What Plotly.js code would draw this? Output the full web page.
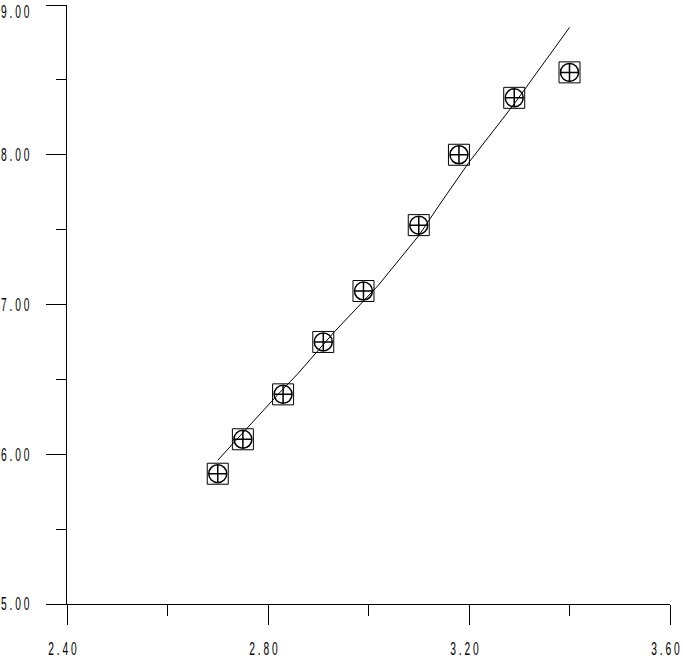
<!DOCTYPE html>
<html>
<head>
<meta charset="utf-8">
<script src="https://cdn.plot.ly/plotly-3.0.1.min.js"></script>
<style>
  html, body { margin: 0; padding: 0; background: #fff; }
  #chart { width: 683px; height: 661px; }
  .xtick text, .ytick text { letter-spacing: 5px; }
</style>
</head>
<body>
<div id="chart"></div>
<script>
// Observed data points
const pointX = [2.70, 2.75, 2.83, 2.91, 2.99, 3.10, 3.18, 3.29, 3.40];
const pointY = [5.87, 6.10, 6.40, 6.75, 7.09, 7.53, 8.00, 8.38, 8.55];

// Fitted curve samples
const fitX = [2.70, 2.77, 2.82, 2.86, 2.93, 3.02, 3.10, 3.14, 3.20, 3.29, 3.40];
const fitY = [5.96, 6.22, 6.40, 6.54, 6.81, 7.13, 7.46, 7.66, 7.95, 8.34, 8.85];

// Tick labels
const xTickVals = [2.4, 2.8, 3.2, 3.6];
const xTickText = ["2.40", "2.80", "3.20", "3.60"];
const yTickVals = [5, 6, 7, 8, 9];
const yTickText = ["5.00", "6.00", "7.00", "8.00", "9.00"];

const tickFont = { family: "Liberation Sans, Arial, sans-serif", size: 18, color: "#000" };
const condense = 0.57;

const traces = [
  {
    x: fitX, y: fitY, mode: "lines", type: "scatter",
    line: { color: "#000", width: 1 },
    hoverinfo: "skip", showlegend: false
  },
  {
    x: pointX, y: pointY, mode: "markers", type: "scatter",
    marker: { symbol: "square-open", size: 21, color: "#000", line: { width: 1, color: "#000" } },
    showlegend: false
  },
  {
    x: pointX, y: pointY, mode: "markers", type: "scatter",
    marker: { symbol: "circle-cross-open", size: 18, color: "#000", line: { width: 1.5, color: "#000" } },
    showlegend: false
  }
];

const layout = {
  width: 683, height: 661,
  margin: { l: 67, r: 13, t: 5, b: 57, pad: 0 },
  paper_bgcolor: "#fff", plot_bgcolor: "#fff",
  showlegend: false,
  xaxis: {
    range: [2.4, 3.6], showgrid: false, zeroline: false,
    showline: true, linecolor: "#000", linewidth: 1,
    tickmode: "array", tickvals: xTickVals, ticktext: xTickText,
    ticks: "outside", ticklen: 20, tickwidth: 1, tickcolor: "#000",
    ticklabelstandoff: 8, ticklabeloverflow: "allow",
    minor: { dtick: 0.2, tick0: 2.4, ticks: "outside", ticklen: 11, tickwidth: 1, tickcolor: "#000", showgrid: false },
    tickfont: tickFont
  },
  yaxis: {
    range: [5, 9], showgrid: false, zeroline: false,
    showline: true, linecolor: "#000", linewidth: 1,
    tickmode: "array", tickvals: yTickVals, ticktext: yTickText,
    ticks: "outside", ticklen: 20, tickwidth: 1, tickcolor: "#000",
    ticklabelstandoff: 10, ticklabeloverflow: "allow",
    minor: { dtick: 0.5, tick0: 5, ticks: "outside", ticklen: 10, tickwidth: 1, tickcolor: "#000", showgrid: false },
    tickfont: tickFont
  }
};

function condenseLabels(gd) {
  gd.querySelectorAll('.xtick text').forEach(function (t) {
    const b = t.getBBox();
    const cx = b.x + b.width / 2;
    const tr = t.getAttribute('transform') || '';
    t.setAttribute('transform', tr + ' translate(' + (cx - 3) + ',0) scale(' + condense + ',1) translate(' + (-cx) + ',0)');
  });
  const top = gd.getBoundingClientRect().top;
  gd.querySelectorAll('.ytick text').forEach(function (t) {
    const b = t.getBBox();
    const rx = b.x + b.width;
    const tr = t.getAttribute('transform') || '';
    t.setAttribute('transform', tr + ' translate(' + rx + ',0) scale(' + condense + ',1) translate(' + (-rx) + ',0)');
    // keep the top label inside the picture, as in the reference
    const r = t.getBoundingClientRect();
    const over = (top + 2) - r.top;
    if (over > 0) {
      t.setAttribute('transform', t.getAttribute('transform') + ' translate(0,' + over + ')');
    }
  });
}

Plotly.newPlot("chart", traces, layout, { displayModeBar: false, staticPlot: true }).then(condenseLabels);
</script>
</body>
</html>
